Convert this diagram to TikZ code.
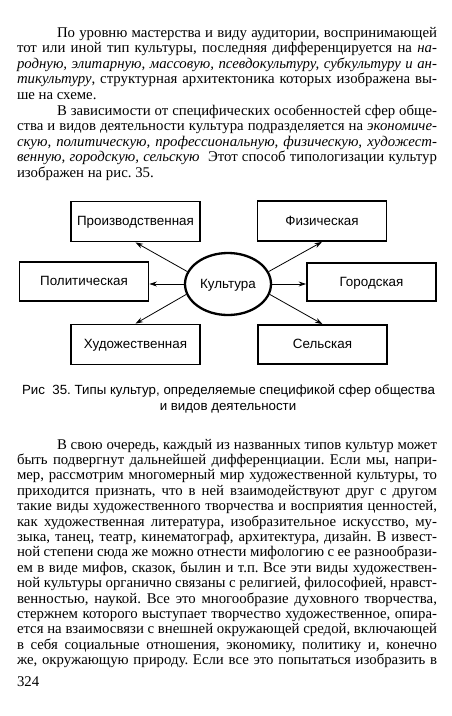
\documentclass[tikz,border=0pt]{standalone}
\usepackage{fontspec}
\setmainfont{Liberation Serif}
\newfontfamily\arialf{Liberation Sans}
\usetikzlibrary{arrows.meta,shapes.geometric}
\frenchspacing
\tikzset{
  txt/.style={anchor=base west,inner sep=0pt,outer sep=0pt,font=\fontsize{14.8}{16}\selectfont\frenchspacing},
  box/.style={draw,line width=1.8pt,minimum width=129pt,minimum height=40pt,inner sep=0pt,text height=8.4pt,text depth=0pt,font=\arialf\fontsize{13.4}{15}\selectfont},
  cul/.style={draw,ellipse,line width=2.3pt,minimum width=86pt,minimum height=62pt,inner sep=0pt,text height=8.4pt,text depth=0pt,font=\arialf\fontsize{13.4}{15}\selectfont},
  arr/.style={line width=0.8pt,-{Stealth[length=7.5pt,width=5pt]}},
  captxt/.style={inner sep=0pt,font=\arialf\fontsize{13.3}{15}\selectfont\frenchspacing}
}
\newcommand{\jl}[2]{\makebox[#1][s]{#2}}
\begin{document}
\begin{tikzpicture}[x=1pt,y=-1pt]
\useasboundingbox (0,0) rectangle (452,716);
\fill[white] (0,0) rectangle (452,716);
% paragraph 1
\node[txt] (a1) at (57,37.0) {\jl{380pt}{По уровню мастерства и виду аудитории, воспринимающей}};
\node[txt] (a2) at (17,52.6) {\jl{420pt}{тот или иной тип культуры, последняя дифференцируется на \textit{на-}}};
\node[txt] (a3) at (17,68.2) {\jl{420pt}{\textit{родную, элитарную, массовую, псевдокультуру, субкультуру и ан-}}};
\node[txt] (a4) at (17,83.8) {\jl{420pt}{\textit{тикультуру}, структурная архитектоника которых изображена вы-}};
\node[txt] (a5) at (17,99.4) {ше на схеме.};
% paragraph 2
\node[txt] (b1) at (57,115.0) {\jl{380pt}{В зависимости от специфических особенностей сфер обще-}};
\node[txt] (b2) at (17,130.6) {\jl{420pt}{ства и видов деятельности культура подразделяется на \textit{экономиче-}}};
\node[txt] (b3) at (17,146.2) {\jl{420pt}{\textit{скую, политическую, профессиональную, физическую, художест-}}};
\node[txt] (b4) at (17,161.8) {\jl{420pt}{\textit{венную, городскую, сельскую}\ \ Этот способ типологизации культур}};
\node[txt] (b5) at (17,177.4) {изображен на рис. 35.};
% diagram
\node[cul] (k) at (228,284) {Культура};
\node[box] (p) at (135.5,221.5) {Производственная};
\node[box] (f) at (322,221) {Физическая};
\node[box,minimum height=39pt] (pol) at (84,281.5) {Политическая};
\node[box,minimum height=38pt] (g) at (371.5,282) {Городская};
\node[box] (h) at (135.5,344.5) {Художественная};
\node[box,minimum height=39pt] (s) at (322.5,344.5) {Сельская};
\draw[arr] (k.163) -- (p.south);
\draw[arr] (k.17) -- (f.south);
\draw[arr] (k.west) -- (k.west -| pol.east);
\draw[arr] (k.east) -- (k.east -| g.west);
\draw[arr] (k.194) -- (h.north);
\draw[arr] (k.346) -- (s.north);
% caption
\node[captxt,anchor=base] (c1) at (228.5,394.5) {Рис\ \ 35. Типы культур, определяемые спецификой сфер общества};
\node[captxt,anchor=base] (c2) at (228,410.5) {и видов деятельности};
% paragraph 3
\node[txt] (c01) at (57,449.0) {\jl{380pt}{В свою очередь, каждый из названных типов культур может}};
\node[txt] (c02) at (17,464.4) {\jl{420pt}{быть подвергнут дальнейшей дифференциации. Если мы, напри-}};
\node[txt] (c03) at (17,479.8) {\jl{420pt}{мер, рассмотрим многомерный мир художественной культуры, то}};
\node[txt] (c04) at (17,495.2) {\jl{420pt}{приходится признать, что в ней взаимодействуют друг с другом}};
\node[txt] (c05) at (17,510.6) {\jl{420pt}{такие виды художественного творчества и восприятия ценностей,}};
\node[txt] (c06) at (17,526.0) {\jl{420pt}{как художественная литература, изобразительное искусство, му-}};
\node[txt] (c07) at (17,541.4) {\jl{420pt}{зыка, танец, театр, кинематограф, архитектура, дизайн. В извест-}};
\node[txt] (c08) at (17,556.8) {\jl{420pt}{ной степени сюда же можно отнести мифологию с ее разнообрази-}};
\node[txt] (c09) at (17,572.2) {\jl{420pt}{ем в виде мифов, сказок, былин и т.п. Все эти виды художествен-}};
\node[txt] (c10) at (17,587.6) {\jl{420pt}{ной культуры органично связаны с религией, философией, нравст-}};
\node[txt] (c11) at (17,603.0) {\jl{420pt}{венностью, наукой. Все это многообразие духовного творчества,}};
\node[txt] (c12) at (17,618.4) {\jl{420pt}{стержнем которого выступает творчество художественное, опира-}};
\node[txt] (c13) at (17,633.8) {\jl{420pt}{ется на взаимосвязи с внешней окружающей средой, включающей}};
\node[txt] (c14) at (17,649.2) {\jl{420pt}{в себя социальные отношения, экономику, политику и, конечно}};
\node[txt] (c15) at (17,664.6) {\jl{420pt}{же, окружающую природу. Если все это попытаться изобразить в}};
\node[txt] (pg) at (17,686.5) {324};
\end{tikzpicture}
\end{document}
